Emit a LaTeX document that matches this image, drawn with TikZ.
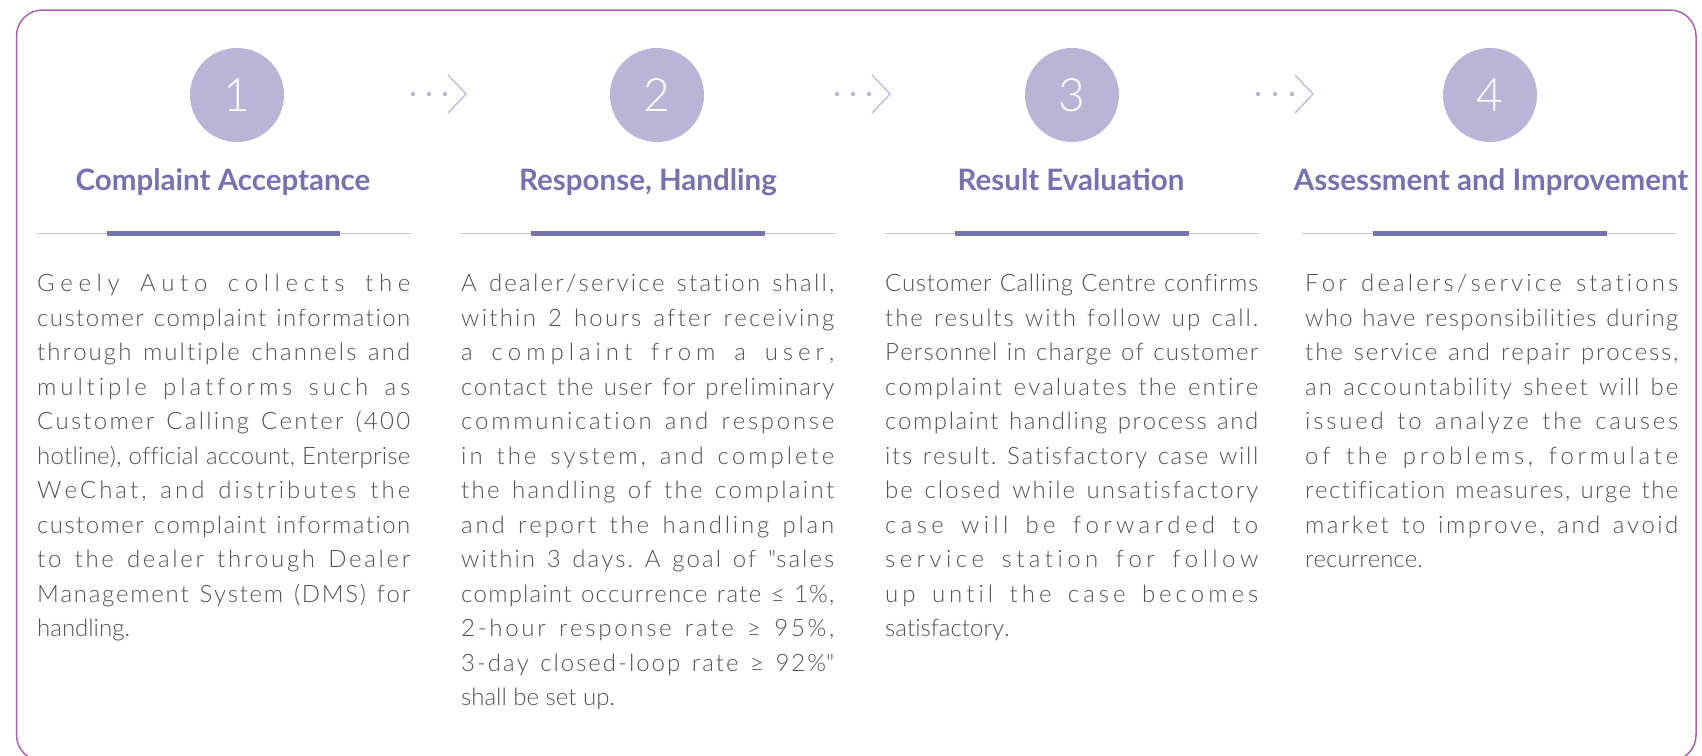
\documentclass[tikz,border=0pt]{standalone}
\usepackage{fontspec}
\setmainfont{Lato}[UprightFont=* Light, BoldFont=* Bold]
\newfontfamily\qfont{Lato}[UprightFont=* Light]

\definecolor{framec}{RGB}{168,100,172}
\definecolor{stepfill}{RGB}{186,181,215}
\definecolor{titlec}{RGB}{118,114,174}
\definecolor{rulec}{RGB}{200,196,224}
\definecolor{bodyc}{RGB}{82,82,82}

% letter spacing glue for the justified texts
\XeTeXinterchartoks 0 0 = {\nobreak\hskip 0pt plus 1fil\relax}
\newcommand\spreadtext{\frenchspacing\XeTeXinterchartokenstate=1\relax
    \spaceskip=\fontdimen2\font plus 2.5fil\relax
    \parfillskip=0pt plus 1fill\relax
    \tolerance=10000\relax\hyphenpenalty=10000\relax\hbadness=10000\relax}

\begin{document}
\begin{tikzpicture}[x=1pt, y=-1pt,
    stepnum/.style={circle, fill=stepfill, minimum size=94pt, inner sep=0pt,
        text=white, font=\fontsize{46}{46}\selectfont},
    steptitle/.style={anchor=base, text=titlec, font=\fontsize{29.5}{34}\selectfont\bfseries},
    bodytext/.style={anchor=north west, inner sep=0pt, text width=373pt, align=justify,
        text=bodyc, font=\fontsize{24}{34.5}\selectfont,
        execute at begin node=\spreadtext},
    thinrule/.style={draw=rulec, line width=1pt},
    thickrule/.style={draw=titlec, line width=5pt},
    dotarrow/.style={draw=stepfill, line width=1.2pt},
]
    % Frame
    \clip (0,0) rectangle (1702,755);
    \draw[framec, line width=1.5pt, rounded corners=26pt] (16.5,10) rectangle (1696,761);

    % Step circles
    \node[stepnum] (n1) at (237,95) {1};
    \node[stepnum] (n2) at (657,95) {2};
    \node[stepnum] (n3) at (1072,95) {3};
    \node[stepnum] (n4) at (1490,95) {4};

    % Dotted arrows between the circles
    \fill[stepfill] (413,94) circle (2.2pt) (429,94) circle (2.2pt) (445,94) circle (2.2pt);
    \draw[dotarrow] (448,75) -- (466,94) -- (448,113);
    \fill[stepfill] (837,94) circle (2.2pt) (853,94) circle (2.2pt) (869,94) circle (2.2pt);
    \draw[dotarrow] (872,75) -- (890,94) -- (872,113);
    \fill[stepfill] (1258,94) circle (2.2pt) (1275,94) circle (2.2pt) (1292,94) circle (2.2pt);
    \draw[dotarrow] (1295,75) -- (1313,94) -- (1295,113);

    % Titles
    \node[steptitle] (h1) at (223,190) {Complaint Acceptance};
    \node[steptitle] (h2) at (648,190) {Response, Handling};
    \node[steptitle] (h3) at (1071,190) {Result Evaluation};
    \node[steptitle] (h4) at (1491,190) {Assessment and Improvement};

    % Rules under the titles
    \draw[thinrule] (36,233) -- (411,233);
    \draw[thickrule] (107,233) -- (340,233);
    \draw[thinrule] (460,233) -- (836,233);
    \draw[thickrule] (531,233) -- (765,233);
    \draw[thinrule] (885,233) -- (1259,233);
    \draw[thickrule] (955,233) -- (1189,233);
    \draw[thinrule] (1302,233) -- (1677,233);
    \draw[thickrule] (1373,233) -- (1607,233);

    % Texts
    \node[bodytext] (b1) at (37,274) {Geely Auto collects the\linebreak
        customer complaint information\linebreak
        through multiple channels and\linebreak
        multiple platforms such as\linebreak
        Customer Calling Center (400\linebreak
        hotline), official account, Enterprise\linebreak
        WeChat, and distributes the\linebreak
        customer complaint information\linebreak
        to the dealer through Dealer\linebreak
        Management System (DMS) for\linebreak
        handling.};
    \node[bodytext] (b2) at (461,274) {A dealer/service station shall,\linebreak
        within 2 hours after receiving\linebreak
        a complaint from a user,\linebreak
        contact the user for preliminary\linebreak
        communication and response\linebreak
        in the system, and complete\linebreak
        the handling of the complaint\linebreak
        and report the handling plan\linebreak
        within 3 days. A goal of {\qfont"}sales\linebreak
        complaint occurrence rate ≤ 1\%,\linebreak
        2-hour response rate ≥ 95\%,\linebreak
        3-day closed-loop rate ≥ 92\%{\qfont"}\linebreak
        shall be set up.};
    \node[bodytext] (b3) at (885,274) {Customer Calling Centre confirms\linebreak
        the results with follow up call.\linebreak
        Personnel in charge of customer\linebreak
        complaint evaluates the entire\linebreak
        complaint handling process and\linebreak
        its result. Satisfactory case will\linebreak
        be closed while unsatisfactory\linebreak
        case will be forwarded to\linebreak
        service station for follow\linebreak
        up until the case becomes\linebreak
        satisfactory.};
    \node[bodytext] (b4) at (1305,274) {For dealers/service stations\linebreak
        who have responsibilities during\linebreak
        the service and repair process,\linebreak
        an accountability sheet will be\linebreak
        issued to analyze the causes\linebreak
        of the problems, formulate\linebreak
        rectification measures, urge the\linebreak
        market to improve, and avoid\linebreak
        recurrence.};
\end{tikzpicture}
\end{document}
